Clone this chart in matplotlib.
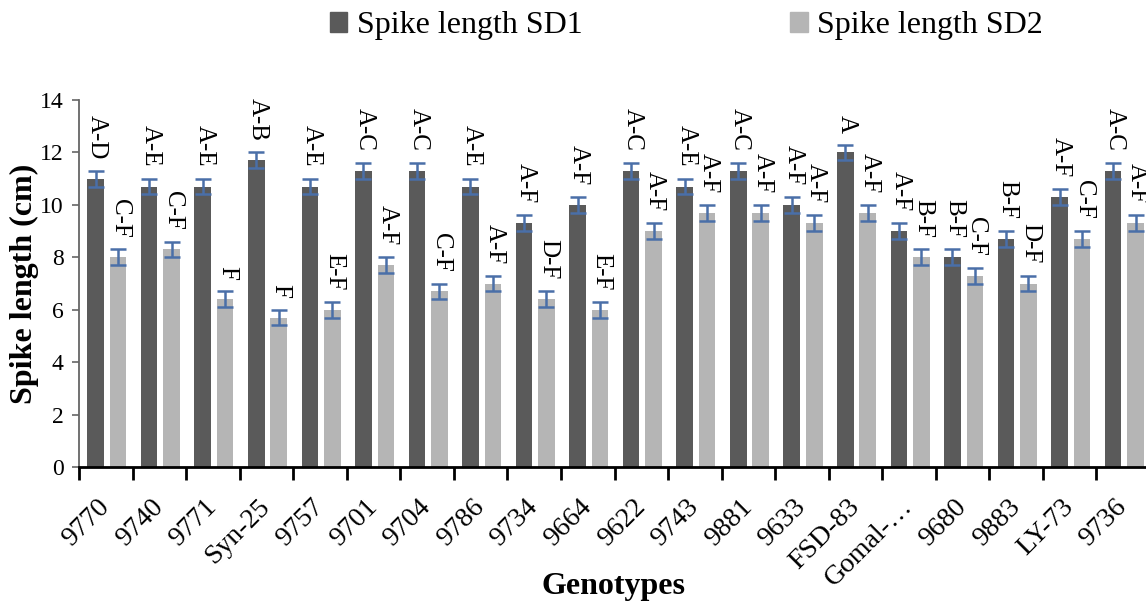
import numpy as np
import matplotlib
matplotlib.use("Agg")
import matplotlib.pyplot as plt
from matplotlib.patches import Patch

plt.rcParams["font.family"] = ["Liberation Serif", "DejaVu Serif"]

genotypes = ["9770", "9740", "9771", "Syn-25", "9757", "9701", "9704", "9786",
             "9734", "9664", "9622", "9743", "9881", "9633", "FSD-83", "Gomal-…",
             "9680", "9883", "LY-73", "9736"]

sd1 = [11.0, 10.7, 10.7, 11.7, 10.7, 11.3, 11.3, 10.7, 9.3, 10.0,
       11.3, 10.7, 11.3, 10.0, 12.0, 9.0, 8.0, 8.7, 10.3, 11.3]
sd2 = [8.0, 8.3, 6.4, 5.7, 6.0, 7.7, 6.7, 7.0, 6.4, 6.0,
       9.0, 9.7, 9.7, 9.3, 9.7, 8.0, 7.3, 7.0, 8.7, 9.3]
err1 = [0.3] * 20
err2 = [0.3] * 20

letters1 = ["A-D", "A-E", "A-E", "A-B", "A-E", "A-C", "A-C", "A-E", "A-F", "A-F",
            "A-C", "A-E", "A-C", "A-F", "A", "A-F", "B-F", "B-F", "A-F", "A-C"]
letters2 = ["C-F", "C-F", "F", "F", "E-F", "A-F", "C-F", "A-F", "D-F", "E-F",
            "A-F", "A-F", "A-F", "A-F", "A-F", "B-F", "C-F", "D-F", "C-F", "A-F"]

dark = "#5a5a5a"
light = "#b5b5b5"
errc = "#4a6fa8"

fig = plt.figure(figsize=(11.46, 6.14), dpi=100)
ax = fig.add_axes([79 / 1146, 147 / 614, (1150 - 79) / 1146, 367 / 614])

x = np.arange(len(genotypes))
w = 0.31
x1 = x - 0.19
x2 = x + 0.23

ax.bar(x1, sd1, w, color=dark, zorder=2)
ax.bar(x2, sd2, w, color=light, zorder=2)
ax.errorbar(x1, sd1, yerr=err1, fmt="none", ecolor=errc, elinewidth=1.8,
            capsize=5.5, capthick=1.8, zorder=3)
ax.errorbar(x2, sd2, yerr=err2, fmt="none", ecolor=errc, elinewidth=1.8,
            capsize=5.5, capthick=1.8, zorder=3)

# significance letters above each bar
for xs, vals, errs, labs in [(x1, sd1, err1, letters1), (x2, sd2, err2, letters2)]:
    for xi, v, e, lab in zip(xs, vals, errs, labs):
        ax.text(xi + 0.03, v + e + 0.45, lab, rotation=-90, ha="center", va="bottom",
                fontsize=18)

ax.set_xlim(-0.5, len(genotypes) - 0.5)
ax.set_ylim(0, 14)
ax.set_yticks(np.arange(0, 15, 2))
ax.tick_params(axis="y", labelsize=17, length=5, width=1.2, color="#666666", pad=6)

# category boundaries get tick marks, centres get labels
ax.set_xticks(np.arange(-0.5, len(genotypes) + 0.5, 1))
ax.set_xticklabels([])
ax.tick_params(axis="x", which="major", length=9, width=2, color="black")
ax.set_xticks(x, minor=True)
ax.set_xticklabels(genotypes, minor=True, rotation=45, ha="right", va="center",
                   rotation_mode="anchor", fontsize=20)
ax.tick_params(axis="x", which="minor", length=0, pad=26)

ax.spines["top"].set_visible(False)
ax.spines["right"].set_visible(False)
ax.spines["bottom"].set_linewidth(2)
ax.spines["bottom"].set_color("black")
ax.spines["left"].set_linewidth(1.3)
ax.spines["left"].set_color("#666666")

ax.set_ylabel("Spike length (cm)", fontsize=23, fontweight="bold")
ax.yaxis.set_label_coords(-0.037, 0.5)
ax.set_xlabel("Genotypes", fontsize=23, fontweight="bold")
ax.xaxis.set_label_coords(0.4995, -0.285)

handles = [Patch(color=dark, label="Spike length SD1"),
           Patch(color=light, label="Spike length SD2")]
fig.legend(handles=handles, loc="center", bbox_to_anchor=(0.599, 0.958), ncol=2,
           frameon=False, fontsize=23, handlelength=0.55, handleheight=0.55,
           handletextpad=0.3, columnspacing=6.5)

fig.savefig("out.png", dpi=100)
